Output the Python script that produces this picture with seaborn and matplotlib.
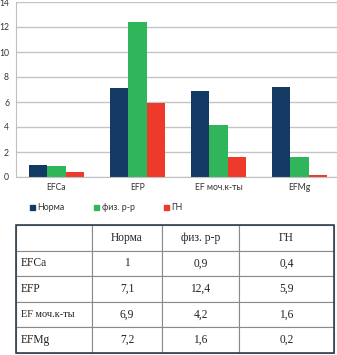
import matplotlib
matplotlib.use("Agg")
import matplotlib.pyplot as plt
import numpy as np
import pandas as pd
import seaborn as sns

categories = ["EFCa", "EFP", "EF моч.к-ты", "EFMg"]
groups = ["Норма", "физ. р-р", "ГН"]
norma = [1.0, 7.1, 6.9, 7.2]
fiz = [0.9, 12.4, 4.2, 1.6]
gn = [0.4, 5.9, 1.6, 0.2]
yticks = [0, 2, 4, 6, 8, 10, 12, 14]

table_rows = [
    ["EFCa", "1", "0,9", "0,4"],
    ["EFP", "7,1", "12,4", "5,9"],
    ["EF моч.к-ты", "6,9", "4,2", "1,6"],
    ["EFMg", "7,2", "1,6", "0,2"],
]

PALETTE = {"Норма": "#133a63", "физ. р-р": "#30b55b", "ГН": "#ee3a2b"}

df = pd.DataFrame({
    "cat": np.repeat(categories, 3),
    "grp": groups * len(categories),
    "val": np.ravel(np.column_stack([norma, fiz, gn])),
})

sns.set_style("white")
plt.rcParams["font.family"] = ["Lato", "DejaVu Sans"]

W, H = 337, 355
fig = plt.figure(figsize=(W / 100, H / 100), dpi=100)

# chart axes (pixel geometry)
left, right, top, bottom = 16, 340, 2, 177
ax = fig.add_axes([left / W, 1 - bottom / H, (right - left) / W, (bottom - top) / H])

sns.barplot(data=df, x="cat", y="val", hue="grp", hue_order=groups,
            palette=PALETTE, order=categories, width=0.67, gap=0,
            saturation=1, linewidth=0, ax=ax, legend=False)

ax.set_ylim(0, 14)
ax.set_xlim(-0.5, 3.5)
ax.set_yticks(yticks)
ax.yaxis.grid(True, color="#c4c4c4", lw=1.0)
ax.set_axisbelow(True)
for s in ["top", "right"]:
    ax.spines[s].set_visible(False)
ax.spines["left"].set_color("#c0c0c0")
ax.spines["bottom"].set_color("#c0c0c0")
ax.tick_params(axis="both", length=0, labelsize=6.2, colors="#333333", pad=4)
ax.tick_params(axis="y", pad=5)
ax.set_xlabel("")
ax.set_ylabel("")

# legend below the chart
handles = [plt.Rectangle((0, 0), 1, 1, color=PALETTE[g]) for g in groups]
fig.legend(handles, groups, loc="center left", ncol=3, frameon=False,
           bbox_to_anchor=(22 / W, 1 - 208 / H), fontsize=6.4,
           handlelength=0.55, handleheight=0.55, handletextpad=0.3,
           columnspacing=3.3, labelcolor="#333333")

# table
tl, tr, tt, tb = 16, 334, 225, 353
tax = fig.add_axes([tl / W, 1 - tb / H, (tr - tl) / W, (tb - tt) / H])
tax.set_axis_off()
cell_text = [[""] + groups] + table_rows
col_w = np.array([76, 70, 77, 95], dtype=float)
col_w = col_w / col_w.sum()
tbl = tax.table(cellText=cell_text, colWidths=col_w, bbox=[0, 0, 1, 1],
                cellLoc="center")
tbl.auto_set_font_size(False)
for (r, c), cell in tbl.get_celld().items():
    cell.set_edgecolor("#8a8a8a")
    cell.set_linewidth(0.8)
    txt = cell.get_text()
    txt.set_fontfamily(["Liberation Serif", "DejaVu Serif"])
    txt.set_fontsize(8.3)
    txt.set_color("#222222")
    if c == 0:
        txt.set_horizontalalignment("left")
        cell.PAD = 0.06
        if r == 3:
            txt.set_fontsize(7.4)

# darker outer frame
tax.add_patch(plt.Rectangle((0, 0), 1, 1, transform=tax.transAxes, fill=False,
                            edgecolor="#2f3f4f", lw=1.2, clip_on=False))

fig.savefig("out.png", dpi=100)
